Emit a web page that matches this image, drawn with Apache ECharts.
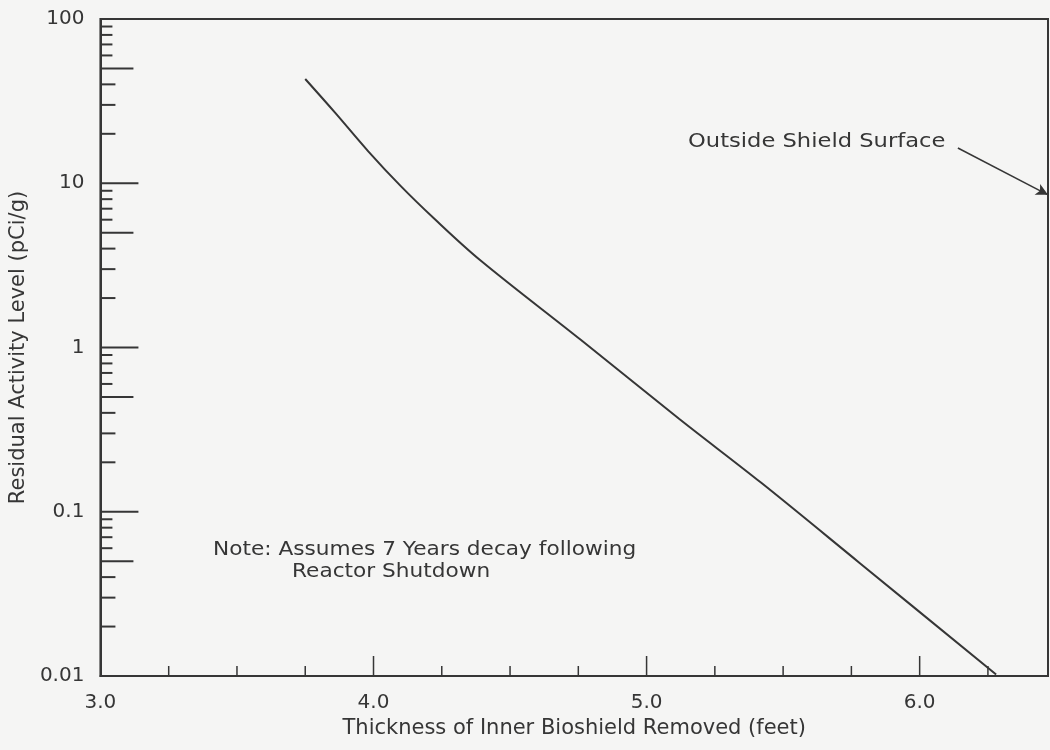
<!DOCTYPE html>
<html>
<head>
<meta charset="utf-8">
<script src="https://cdn.jsdelivr.net/npm/echarts@6/dist/echarts.min.js"></script>
<style>
  html, body { margin: 0; padding: 0; background: #f5f5f4; }
  #chart { width: 1050px; height: 750px; }
</style>
</head>
<body>
<div id="chart"></div>
<script>
// Residual activity remaining vs. thickness of inner bioshield removed
const thicknessFt = [3.75, 3.86, 3.98, 4.10, 4.22, 4.39, 4.76, 5.12, 5.42, 5.78, 6.28];
const activityPCiG = [43.1, 26.8, 15.7, 9.6, 6.14, 3.41, 1.11, 0.367, 0.150, 0.0488, 0.0102];

// axis ranges and tick marks
const xMin = 3.0, xMax = 6.47, xStep = 0.25;
const yMin = 0.01, yMax = 100;
const xMajorTicks = [4.0, 5.0, 6.0];
const xMinorTicks = [3.25, 3.5, 3.75, 4.25, 4.5, 4.75, 5.25, 5.5, 5.75, 6.25];
const yDecades = [0.01, 0.1, 1, 10];
const yHalfTicks = [0.05, 0.5, 5, 50];
const yMinorMults = [2, 3, 4, 6, 7, 8, 9];

// annotation arrow: from label to the outer face of the shield
const arrowFrom = [6.14, 16.4];
const arrowTo = [6.47, 8.5];

const INK = '#363636';
const FONT = 'DejaVu Sans';

// tick list for the y axis: [x, value, length]
const yTickData = [];
yDecades.forEach(function (d) {
  yTickData.push([xMin, d * 10, 38]);
  yMinorMults.forEach(function (m) {
    yTickData.push([xMin, d * m, m <= 4 ? 15 : 12]);
  });
});
yHalfTicks.forEach(function (v) { yTickData.push([xMin, v, 33]); });

const xTickData = xMajorTicks.map(function (v) { return [v, yMin, 20]; })
  .concat(xMinorTicks.map(function (v) { return [v, yMin, 10]; }));

function yTickRender(params, api) {
  const p = api.coord([api.value(0), api.value(1)]);
  return {
    type: 'line',
    shape: { x1: p[0], y1: p[1], x2: p[0] + api.value(2), y2: p[1] },
    style: { stroke: INK, lineWidth: 2 }
  };
}
function xTickRender(params, api) {
  const p = api.coord([api.value(0), api.value(1)]);
  return {
    type: 'line',
    shape: { x1: p[0], y1: p[1], x2: p[0], y2: p[1] - api.value(2) },
    style: { stroke: INK, lineWidth: 1.5 }
  };
}

const chart = echarts.init(document.getElementById('chart'), null, { renderer: 'canvas' });

const noteFont = '19px "DejaVu Sans"';

chart.setOption({
  backgroundColor: '#f5f5f4',
  animation: false,
  grid: {
    left: 99, right: 2, top: 19, bottom: 74,
    show: true, borderColor: INK, borderWidth: 2, backgroundColor: 'transparent'
  },
  xAxis: {
    type: 'value',
    min: xMin, max: xMax, interval: xStep,
    axisLine: { show: true, lineStyle: { color: INK, width: 2 } },
    axisTick: { show: false },
    splitLine: { show: false },
    axisLabel: {
      margin: 17, fontSize: 20, color: INK, fontFamily: FONT,
      showMaxLabel: false,
      formatter: function (v) {
        return Math.abs(v - Math.round(v)) < 1e-6 ? v.toFixed(1) : '';
      }
    },
    name: 'Thickness of Inner Bioshield Removed (feet)',
    nameLocation: 'middle', nameGap: 36,
    nameTextStyle: { fontSize: 21, color: INK, fontFamily: FONT }
  },
  yAxis: {
    type: 'log', logBase: 10,
    min: yMin, max: yMax,
    axisLine: { show: true, lineStyle: { color: INK, width: 2 } },
    axisTick: { show: false },
    splitLine: { show: false },
    axisLabel: {
      margin: 16, fontSize: 20, color: INK, fontFamily: FONT,
      formatter: function (v) { return String(parseFloat(Number(v).toPrecision(2))); }
    },
    name: 'Residual Activity Level (pCi/g)',
    nameLocation: 'middle', nameGap: 65,
    nameTextStyle: { fontSize: 21, color: INK, fontFamily: FONT }
  },
  graphic: [
    {
      type: 'text', left: 213, top: 541, scaleX: 1.14,
      style: { text: 'Note: Assumes 7 Years decay following', font: noteFont, fill: INK }
    },
    {
      type: 'text', left: 292, top: 563, scaleX: 1.14,
      style: { text: 'Reactor Shutdown', font: noteFont, fill: INK }
    },
    {
      type: 'text', left: 688, top: 133, scaleX: 1.19,
      style: { text: 'Outside Shield Surface', font: noteFont, fill: INK }
    }
  ],
  series: [
    {
      name: 'Residual activity',
      type: 'line',
      data: thicknessFt.map(function (x, i) { return [x, activityPCiG[i]]; }),
      smooth: 0.35,
      showSymbol: false,
      clip: false,
      lineStyle: { color: INK, width: 2 },
      markLine: {
        silent: true,
        symbol: ['none', 'arrow'],
        symbolSize: [9, 12],
        label: { show: false },
        lineStyle: { color: INK, width: 1.5, type: 'solid' },
        data: [[{ coord: arrowFrom }, { coord: arrowTo }]]
      }
    },
    { type: 'custom', renderItem: yTickRender, data: yTickData, silent: true, z: 3 },
    { type: 'custom', renderItem: xTickRender, data: xTickData, silent: true, z: 3 }
  ]
});
</script>
</body>
</html>
